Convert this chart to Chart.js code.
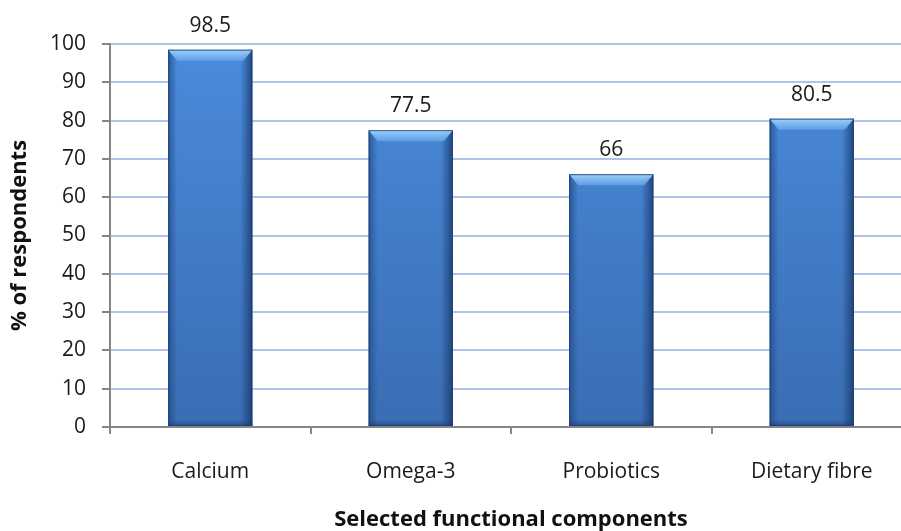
<!DOCTYPE html>
<html>
<head>
<meta charset="utf-8">
<script src="https://cdn.jsdelivr.net/npm/chart.js@4/dist/chart.umd.min.js"></script>
<style>
    html, body { margin: 0; padding: 0; background: #fff; overflow: hidden; }
    #wrap { width: 912px; height: 531px; }
</style>
</head>
<body>
<div id="wrap"><canvas id="barChart"></canvas></div>
<script>
// chart data
const categories = ["Calcium", "Omega-3", "Probiotics", "Dietary fibre"];
const respondents = [98.5, 77.5, 66, 80.5];
const yTicks = [0, 10, 20, 30, 40, 50, 60, 70, 80, 90, 100];

const FONT = "'Open Sans', 'Liberation Sans', sans-serif";

// bevel look for each bar (edges + light top)
const bevelPlugin = {
    id: "bevel",
    afterDatasetsDraw(chart) {
        const ctx = chart.ctx;
        chart.getDatasetMeta(0).data.forEach(bar => {
            const w = bar.width;
            const l = bar.x - w / 2;
            const r = bar.x + w / 2;
            const t = bar.y;
            const b = bar.base;
            ctx.save();

            // left shade
            let g = ctx.createLinearGradient(l, 0, l + 9, 0);
            g.addColorStop(0, "rgba(30,70,130,0.7)");
            g.addColorStop(1, "rgba(30,70,130,0)");
            ctx.fillStyle = g;
            ctx.fillRect(l, t, 9, b - t);

            // right shade
            g = ctx.createLinearGradient(r - 12, 0, r, 0);
            g.addColorStop(0, "rgba(20,50,100,0)");
            g.addColorStop(1, "rgba(20,50,100,0.75)");
            ctx.fillStyle = g;
            ctx.fillRect(r - 12, t, 12, b - t);

            // bottom shade
            g = ctx.createLinearGradient(0, b - 6, 0, b);
            g.addColorStop(0, "rgba(20,50,100,0)");
            g.addColorStop(1, "rgba(20,50,100,0.5)");
            ctx.fillStyle = g;
            ctx.fillRect(l, b - 6, w, 6);

            // light top bevel
            g = ctx.createLinearGradient(0, t, 0, t + 11);
            g.addColorStop(0, "rgba(160,212,252,1)");
            g.addColorStop(1, "rgba(105,170,238,0.7)");
            ctx.fillStyle = g;
            ctx.beginPath();
            ctx.moveTo(l, t);
            ctx.lineTo(r, t);
            ctx.lineTo(r - 9, t + 11);
            ctx.lineTo(l + 9, t + 11);
            ctx.closePath();
            ctx.fill();

            // outline
            ctx.strokeStyle = "rgba(30,60,110,0.8)";
            ctx.lineWidth = 1;
            ctx.strokeRect(l + 0.5, t + 0.5, w - 1, b - t - 1);
            ctx.restore();
        });
    }
};

// value labels above bars
const valueLabels = {
    id: "valueLabels",
    afterDatasetsDraw(chart) {
        const ctx = chart.ctx;
        ctx.save();
        ctx.font = "21px " + FONT;
        ctx.fillStyle = "#1a1a1a";
        ctx.textAlign = "center";
        ctx.textBaseline = "alphabetic";
        chart.getDatasetMeta(0).data.forEach((bar, i) => {
            ctx.fillText(String(respondents[i]), bar.x, bar.y - 18);
        });
        ctx.restore();
    }
};

function setupChart() {
    const ctx = document.getElementById("barChart").getContext("2d");

    new Chart(ctx, {
        type: "bar",
        data: {
            labels: categories,
            datasets: [
                {
                    data: respondents,
                    backgroundColor: (c) => {
                        const area = c.chart.chartArea;
                        if (!area) return "#4282d2";
                        const g = c.chart.ctx.createLinearGradient(0, area.top, 0, area.bottom);
                        g.addColorStop(0, "#4a8bdb");
                        g.addColorStop(1, "#3a6db3");
                        return g;
                    },
                    borderWidth: 0,
                    barPercentage: 0.42,
                    categoryPercentage: 1.0,
                },
            ],
        },
        options: {
            responsive: true,
            maintainAspectRatio: false,
            animation: false,
            layout: { padding: { top: 44, left: 0, right: 0, bottom: 0 } },
            plugins: {
                legend: { display: false },
                tooltip: { enabled: false },
            },
            scales: {
                x: {
                    offset: true,
                    border: { color: "#868686", width: 2 },
                    grid: {
                        offset: true,
                        drawOnChartArea: false,
                        color: "#868686",
                        lineWidth: 2,
                        tickLength: 7,
                    },
                    ticks: {
                        color: "#1a1a1a",
                        font: { family: FONT, size: 21 },
                        padding: 25,
                        maxRotation: 0,
                    },
                    title: {
                        display: true,
                        text: "Selected functional components",
                        color: "#111",
                        font: { family: FONT, size: 22, weight: "bold", lineHeight: 1.0 },
                        padding: { top: 0, bottom: 0 },
                    },
                    afterFit: (scale) => { scale.height = 104; },
                },
                y: {
                    min: 0,
                    max: 100,
                    border: { color: "#868686", width: 2 },
                    grid: {
                        color: (c) => (c.tick && c.tick.value === 0 ? "#868686" : "#adc3ea"),
                        tickColor: "#868686",
                        lineWidth: 2,
                        tickLength: 8,
                    },
                    afterBuildTicks: (scale) => {
                        scale.ticks = yTicks.map(v => ({ value: v }));
                    },
                    ticks: {
                        color: "#1a1a1a",
                        font: { family: FONT, size: 21 },
                        padding: 16,
                    },
                    title: {
                        display: true,
                        text: "% of respondents",
                        color: "#111",
                        font: { family: FONT, size: 22, weight: "bold", lineHeight: 1.0 },
                        padding: { top: 9, bottom: 0 },
                    },
                    afterFit: (scale) => { scale.width = 110; },
                },
            },
        },
        plugins: [bevelPlugin, valueLabels],
    });
}

document.addEventListener("DOMContentLoaded", setupChart);
</script>
</body>
</html>
